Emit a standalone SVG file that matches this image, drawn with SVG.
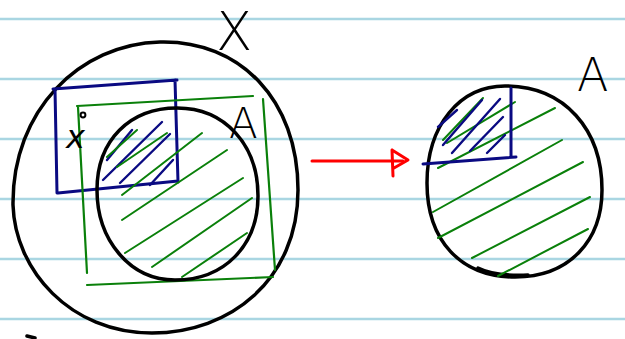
<svg xmlns="http://www.w3.org/2000/svg" width="625" height="339" viewBox="0 0 625 339">
<style>
.rule{stroke:#a9d6e2;stroke-width:2.5}
.blk{fill:none;stroke:#000;stroke-width:3.5;stroke-linecap:round;stroke-linejoin:round}
.blu{fill:none;stroke:#0a0a82;stroke-width:3;stroke-linecap:round;stroke-linejoin:round}
.grn{fill:none;stroke:#0a800a;stroke-width:2.2;stroke-linecap:round;stroke-linejoin:round}
.gh{fill:none;stroke:#0a800a;stroke-width:2;stroke-linecap:round}
.bh{fill:none;stroke:#0a0a82;stroke-width:2.4;stroke-linecap:round}
.lbl{font-family:"DejaVu Sans","Liberation Sans",sans-serif;font-weight:200;fill:#000}
</style>
<rect width="625" height="339" fill="#fff"/>
<g id="ruling">
<line class="rule" x1="0" y1="19" x2="625" y2="19"/>
<line class="rule" x1="0" y1="79" x2="625" y2="79"/>
<line class="rule" x1="0" y1="139" x2="625" y2="139"/>
<line class="rule" x1="0" y1="199" x2="625" y2="199"/>
<line class="rule" x1="0" y1="259" x2="625" y2="259"/>
<line class="rule" x1="0" y1="319" x2="625" y2="319"/>
</g>
<g id="setX">
<path class="blk" d="M 160 42 C 240 40, 298 100, 298 190 C 298 280, 230 333, 152 333 C 70 333, 15 270, 13 205 C 12 110, 80 44, 160 42 Z"/>
<text class="lbl" x="216" y="50" font-size="53">X</text>
</g>
<g id="blueRectLeft">
<path class="blu" d="M 53 89 L 177 80 M 175 80 L 178 182 M 178 181 L 58 193 M 55 89 L 57 193"/>
<path class="bh" d="M 107 160 L 132 130 M 103 180 L 162 122 M 120 183 L 170 134 M 150 185 L 173 160"/>
</g>
<g id="greenRectLeft">
<path class="grn" d="M 77 106 L 253 96 M 263 99 L 275 270 M 273 277 L 87 285 M 78 107 L 87 273"/>
<path class="gh" d="M 107 157 L 137 130 M 117 167 L 167 133 M 122 195 L 202 133 M 122 220 L 227 150 M 125 253 L 243 178 M 152 267 L 252 198 M 182 277 L 247 233"/>
</g>
<g id="setA">
<path class="blk" d="M 177 108 C 225 108, 258 145, 258 196 C 258 245, 225 280, 175 280 C 130 280, 97 240, 97 190 C 97 140, 130 108, 177 108 Z"/>
<text class="lbl" x="229" y="138" font-size="42">A</text>
</g>
<g id="pointx">
<circle cx="83" cy="115" r="2.4" fill="none" stroke="#000" stroke-width="2"/>
<text class="lbl" x="66" y="148" font-size="32" font-style="italic">x</text>
</g>
<g id="connectors">
<path d="M 312 161 L 403 161" fill="none" stroke="#f00" stroke-width="3" stroke-linecap="round"/>
<path d="M 392 150 L 408 160 L 394 168 M 392 150 L 393 176" fill="none" stroke="#f00" stroke-width="3" stroke-linecap="round" stroke-linejoin="round"/>
</g>
<g id="setAright">
<path class="blk" d="M 505 86 C 565 86, 602 130, 602 190 C 602 240, 570 277, 515 277 C 460 277, 427 240, 427 183 C 427 125, 460 86, 505 86 Z"/>
<path class="blk" d="M 478 268 C 490 274, 505 276, 528 275"/>
<text class="lbl" x="577" y="91" font-size="46">A</text>
</g>
<g id="rightHatch">
<path class="gh" d="M 443 140 L 483 98 M 447 143 L 515 102 M 438 168 L 555 108 M 433 212 L 562 140 M 438 238 L 583 162 M 472 258 L 590 197 M 498 276 L 588 229"/>
<path class="blu" d="M 511 88 L 511 157 M 423 164 L 516 157"/>
<path class="bh" d="M 443 145 L 482 100 M 452 153 L 500 99 M 470 151 L 503 117 M 487 153 L 505 135 M 438 127 L 457 110"/>
</g>
<g id="edge">
<path class="blk" d="M 27 336 L 35 338"/>
</g>
</svg>
